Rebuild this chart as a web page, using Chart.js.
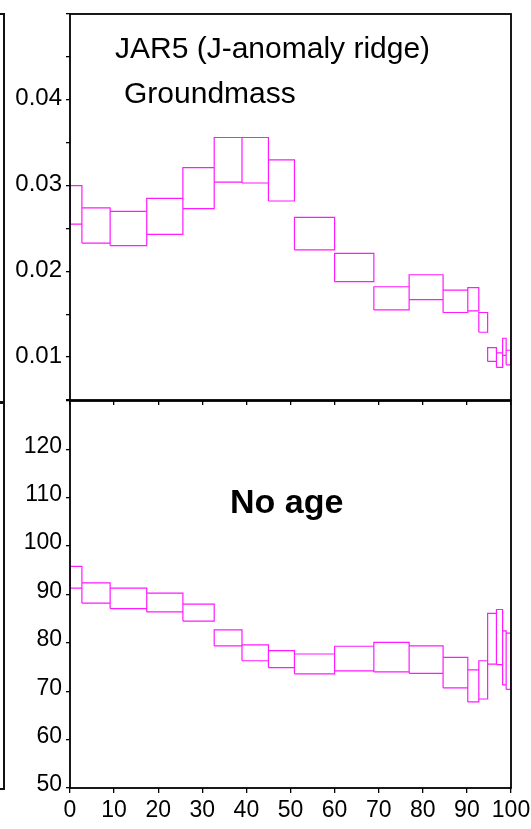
<!DOCTYPE html>
<html>
<head>
<meta charset="utf-8">
<script src="https://cdn.jsdelivr.net/npm/chart.js@4.4.1/dist/chart.umd.min.js"></script>
<style>
    body { margin: 0; background: #fff; overflow: hidden; }
    #wrap { position: relative; width: 531px; height: 829px; }
    canvas { position: absolute; left: 0; top: 0; }
    .label { position: absolute; font-family: 'Liberation Sans', Arial, sans-serif; line-height: 1; color: #000; white-space: nowrap; }
    .edge { position: absolute; left: 0; width: 3px; border: 2px solid #111; border-left: none; }
</style>
</head>
<body>
<div id="wrap">
    <canvas id="ratioChart" width="531" height="829"></canvas>
    <canvas id="ageChart" width="531" height="829"></canvas>
    <!-- right edge of the neighbouring panels, cut off by the crop -->
    <div class="edge" style="top:13px;height:386px;"></div>
    <div class="edge" style="top:402px;height:384px;"></div>
    <div class="label" style="left:115px;top:33px;font-size:30px;">JAR5 (J-anomaly ridge)</div>
    <div class="label" style="left:124px;top:78px;font-size:30px;">Groundmass</div>
    <div class="label" style="left:230px;top:484px;font-size:34px;font-weight:bold;">No age</div>
</div>
<script>
// cumulative % 39Ar released at each step boundary
const stepEdges = [0, 2.7, 9.1, 17.4, 25.6, 32.7, 39.0, 45.0, 50.9, 60.0, 68.9, 76.9, 84.6, 90.2, 92.7, 94.7, 96.7, 98.1, 98.9, 100];

// top panel (ratio) error box limits
const ratioLow  = [0.0255, 0.0233, 0.0230, 0.0243, 0.0273, 0.0304, 0.0303, 0.0282, 0.0225, 0.0188, 0.0155, 0.0167, 0.0152, 0.0154, 0.0129, 0.0095, 0.0088, 0.0102, 0.0091];
const ratioHigh = [0.0300, 0.0274, 0.0270, 0.0285, 0.0321, 0.0356, 0.0356, 0.0330, 0.0263, 0.0221, 0.0182, 0.0196, 0.0178, 0.0181, 0.0152, 0.0111, 0.0105, 0.0122, 0.0108];

// bottom panel (apparent age) error box limits
const ageLow  = [91.3, 88.2, 87.1, 86.4, 84.5, 79.4, 76.3, 74.9, 73.6, 74.2, 74.0, 73.7, 70.7, 67.8, 68.4, 75.6, 75.5, 71.3, 70.4];
const ageHigh = [95.8, 92.4, 91.3, 90.3, 88.0, 82.7, 79.6, 78.4, 77.7, 79.3, 80.1, 79.4, 77.0, 74.4, 76.3, 86.1, 86.9, 82.5, 82.0];

const xTicks = [0, 10, 20, 30, 40, 50, 60, 70, 80, 90, 100];
const ratioLabels = [0.01, 0.02, 0.03, 0.04];
const ageLabels = [50, 60, 70, 80, 90, 100, 110, 120];

const FONT = "'Liberation Sans', Arial, sans-serif";
Chart.defaults.font.family = FONT;
Chart.defaults.color = '#000';

// build closed rectangles, separated by gaps
function buildBoxes(low, high) {
    const pts = [];
    for (let i = 0; i < low.length; i++) {
        const x0 = stepEdges[i], x1 = stepEdges[i + 1];
        pts.push({ x: x0, y: low[i] }, { x: x0, y: high[i] }, { x: x1, y: high[i] },
                 { x: x1, y: low[i] }, { x: x0, y: low[i] }, { x: x1, y: null });
    }
    return pts;
}

// draws the box frame around the plot area
const framePlugin = {
    id: 'frame',
    afterDraw(chart) {
        const a = chart.chartArea, c = chart.ctx;
        c.save();
        c.strokeStyle = '#000';
        c.lineWidth = 1.8;
        c.strokeRect(a.left, a.top, a.right - a.left, a.bottom - a.top);
        c.restore();
    }
};

const tickGrid = { drawOnChartArea: false, drawTicks: true, tickLength: 4, color: '#000', lineWidth: 1.3 };

function makeChart(id, data, yOpts, pad, showX) {
    const ctx = document.getElementById(id).getContext('2d');
    return new Chart(ctx, {
        type: 'line',
        data: {
            datasets: [{
                data: data,
                borderColor: '#ff1aff',
                borderWidth: 1.2,
                pointRadius: 0,
                tension: 0,
                spanGaps: false
            }]
        },
        options: {
            responsive: false,
            animation: false,
            layout: { padding: pad },
            plugins: { legend: { display: false }, tooltip: { enabled: false } },
            scales: {
                x: {
                    type: 'linear', min: 0, max: 100,
                    border: { display: false },
                    grid: Object.assign({}, tickGrid, { tickLength: 5 }),
                    afterBuildTicks: (s) => { s.ticks = xTicks.map(v => ({ value: v })); },
                    ticks: {
                        display: showX, padding: 4, maxRotation: 0, autoSkip: false,
                        font: { size: 23 },
                        callback: (v) => String(v)
                    },
                    afterFit: (s) => {
                        s.height = showX ? 40 : 6;
                        s.paddingLeft = 0;
                        s.paddingRight = 0;
                    }
                },
                y: Object.assign({
                    type: 'linear',
                    border: { display: false },
                    grid: tickGrid,
                    afterFit: (s) => { s.width = 70; s.paddingTop = 0; s.paddingBottom = 0; }
                }, yOpts)
            }
        },
        plugins: [framePlugin]
    });
}

document.addEventListener('DOMContentLoaded', () => {
    makeChart('ratioChart', buildBoxes(ratioLow, ratioHigh), {
        min: 0.005, max: 0.05,
        ticks: {
            stepSize: 0.005, padding: 4, autoSkip: false, labelOffset: -1,
            font: { size: 24 },
            callback: (v) => ratioLabels.some(t => Math.abs(t - v) < 1e-6) ? v.toFixed(2) : ''
        }
    }, { top: 14, right: 20, bottom: 423, left: 0 }, false);

    makeChart('ageChart', buildBoxes(ageLow, ageHigh), {
        min: 50, max: 130,
        ticks: {
            stepSize: 10, padding: 4, autoSkip: false, labelOffset: -3,
            font: { size: 23 },
            callback: (v) => ageLabels.includes(v) ? String(v) : ''
        }
    }, { top: 401, right: 20, bottom: 1, left: 0 }, true);
});
</script>
</body>
</html>
